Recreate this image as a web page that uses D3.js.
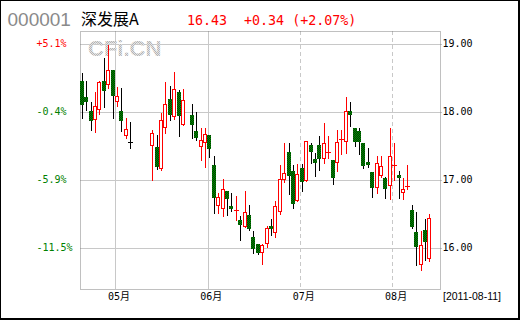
<!DOCTYPE html>
<html><head><meta charset="utf-8">
<script src="https://cdn.jsdelivr.net/npm/d3@7/dist/d3.min.js"></script>
<style>html,body{margin:0;padding:0;background:#fff;}svg{display:block;}</style>
</head><body>
<script>
// ---- data ----
const dates = [
 "2011-04-20","2011-04-21","2011-04-22","2011-04-25","2011-04-26","2011-04-27","2011-04-28","2011-04-29",
 "2011-05-03","2011-05-04","2011-05-05","2011-05-06","2011-05-09","2011-05-10","2011-05-11","2011-05-12","2011-05-13",
 "2011-05-16","2011-05-17","2011-05-18","2011-05-19","2011-05-20","2011-05-23","2011-05-24","2011-05-25","2011-05-26","2011-05-27",
 "2011-05-30","2011-05-31",
 "2011-06-01","2011-06-02","2011-06-03","2011-06-07","2011-06-08","2011-06-09","2011-06-10","2011-06-13","2011-06-14","2011-06-15",
 "2011-06-16","2011-06-17","2011-06-20","2011-06-21","2011-06-22","2011-06-23","2011-06-24","2011-06-27","2011-06-28","2011-06-29","2011-06-30",
 "2011-07-01","2011-07-04","2011-07-05","2011-07-06","2011-07-07","2011-07-08","2011-07-11","2011-07-12","2011-07-13","2011-07-14",
 "2011-07-15","2011-07-18","2011-07-19","2011-07-20","2011-07-21","2011-07-22","2011-07-25","2011-07-26","2011-07-27","2011-07-28","2011-07-29",
 "2011-08-01","2011-08-02","2011-08-03","2011-08-04","2011-08-05","2011-08-08","2011-08-09","2011-08-10","2011-08-11"
];
const openP = [18.45,18.21,18.01,17.88,18.03,18.45,18.39,18.62,
 18.15,18.01,17.64,17.55,null,null,null,null,17.50,17.48,17.16,17.76,18.18,17.92,18.29,17.81,null,17.95,17.72,17.48,17.54,
 17.66,17.22,16.62,16.57,16.83,16.62,16.54,16.41,16.31,16.48,16.16,16.05,15.92,16.05,16.32,16.21,16.53,16.99,17.41,17.13,16.69,
 17.17,16.98,17.51,17.31,17.51,17.30,17.40,17.29,17.25,17.59,17.56,18.01,17.76,17.71,17.54,17.26,17.12,16.88,17.05,17.03,16.91,
 17.21,17.07,16.80,16.90,16.55,16.23,15.74,16.26,15.83];
const highP = [18.57,18.45,18.14,18.29,18.45,18.79,18.98,18.62,
 18.37,18.35,17.91,17.85,null,null,null,null,17.73,17.66,17.98,18.43,18.38,18.59,18.32,18.34,null,18.11,18.00,17.76,17.76,
 17.66,17.35,16.81,17.01,16.83,16.81,16.76,16.47,16.84,16.63,16.25,16.05,16.06,16.32,16.42,16.69,17.22,17.54,17.54,17.22,17.23,
 17.23,17.57,17.54,17.39,17.65,17.83,17.64,17.29,17.73,17.73,18.22,18.15,17.76,17.76,17.54,17.46,17.12,17.35,17.35,17.04,17.76,
 17.54,17.13,17.02,17.22,16.63,16.52,16.25,16.42,16.50];
const lowP = [17.91,18.03,17.73,17.70,17.97,18.07,18.35,17.91,
 18.08,17.72,17.61,17.47,null,null,null,null,17.00,17.16,17.15,17.69,17.88,17.90,17.64,17.80,null,17.62,17.59,17.29,17.18,
 17.34,16.51,16.51,16.46,16.48,16.54,16.41,16.12,16.30,16.26,15.92,15.91,15.76,16.01,16.19,16.16,16.50,16.97,16.79,16.59,16.68,
 16.84,16.98,17.25,17.05,17.14,17.25,17.32,16.94,17.13,17.38,17.39,17.79,17.49,17.38,17.17,17.19,16.75,16.81,17.04,16.73,16.71,
 16.99,16.73,16.72,16.86,16.29,15.75,15.67,15.82,15.81];
const closeP = [18.10,18.15,17.87,18.09,18.44,18.31,18.62,18.23,
 18.23,17.87,17.75,17.55,null,null,null,null,17.68,17.18,17.88,18.12,17.95,18.34,17.93,18.17,null,17.80,17.62,17.58,17.67,
 17.45,16.73,16.74,16.86,16.71,16.57,16.55,16.34,16.52,16.28,15.98,15.92,16.04,16.29,16.28,16.61,17.01,17.10,17.05,16.64,17.08,
 16.96,17.57,17.41,17.25,17.31,17.54,17.41,17.03,17.55,17.60,18.01,17.95,17.56,17.56,17.20,17.22,16.88,17.24,17.20,16.86,17.35,
 17.22,17.03,16.87,16.91,16.31,16.01,16.04,16.09,16.43];
const priceTicks = [16, 17, 18, 19];
const pctLabels = ["-11.5%", "-5.9%", "-0.4%", "+5.1%"];
const monthStarts = ["2011-05-03", "2011-06-01", "2011-07-01", "2011-08-01"];
const monthLabels = ["05月", "06月", "07月", "08月"];
const stockCode = "000001";
const stockName = "深发展A";
const lastPrice = "16.43";
const changeText = "+0.34 (+2.07%)";
const dateLabel = "[2011-08-11]";

// ---- drawing ----
const W = 520, H = 320;
const RED = "#ff0000", GREEN = "#008000";
const svg = d3.select("body").append("svg").attr("width", W).attr("height", H);
svg.append("rect").attr("width", W).attr("height", H).attr("fill", "#fff");

const defs = svg.append("defs");
const gp = defs.append("pattern").attr("id", "gpat").attr("width", 2).attr("height", 2).attr("patternUnits", "userSpaceOnUse");
gp.append("rect").attr("width", 2).attr("height", 2).attr("fill", "#008c00");
gp.append("rect").attr("x", 1).attr("width", 1).attr("height", 1).attr("fill", "#003c00");
gp.append("rect").attr("y", 1).attr("width", 1).attr("height", 1).attr("fill", "#003c00");
const wp = defs.append("pattern").attr("id", "wpat").attr("width", 2).attr("height", 2).attr("patternUnits", "userSpaceOnUse");
wp.append("rect").attr("width", 2).attr("height", 2).attr("fill", "#e4e4e4");
wp.append("rect").attr("width", 1).attr("height", 1).attr("fill", "#b4b4b4");
wp.append("rect").attr("x", 1).attr("y", 1).attr("width", 1).attr("height", 1).attr("fill", "#b4b4b4");

const L = 80, R = 440, T = 31, B = 289, STEP = 4.4;
const x = d3.scaleBand().domain(dates).range([L, L + dates.length * STEP]).padding(0);
const y = d3.scaleLinear().domain([16, 19]).range([247.7, 43.7]);

// horizontal gridlines
svg.append("g").selectAll("line").data(priceTicks).join("line")
  .attr("x1", L).attr("x2", R + 2)
  .attr("y1", d => Math.round(y(d)) + 0.5).attr("y2", d => Math.round(y(d)) + 0.5)
  .attr("stroke", "#c8c8c8").attr("stroke-width", 1);
// vertical month gridlines
svg.append("g").selectAll("line").data(monthStarts).join("line")
  .attr("x1", d => Math.round(x(d)) + 0.5).attr("x2", d => Math.round(x(d)) + 0.5)
  .attr("y1", T).attr("y2", B)
  .attr("stroke", "#c8c8c8").attr("stroke-width", 1)
  .attr("stroke-dasharray", (d, i) => i >= 2 ? "4,3" : null);

// watermark
svg.append("text").attr("x", 88).attr("y", 56).text("CFi.CN")
  .attr("font-family", "Liberation Sans, Arial, sans-serif").attr("font-weight", "bold")
  .attr("font-size", 22).attr("fill", "url(#wpat)");

// frame
svg.append("rect").attr("x", L + 0.5).attr("y", T + 0.5).attr("width", R - L).attr("height", B - T)
  .attr("fill", "none").attr("stroke", "#808080").attr("stroke-dasharray", "1,1");

// candles
const candles = dates.map((d, i) => ({d, o: openP[i], h: highP[i], l: lowP[i], c: closeP[i]}))
  .filter(k => k.o != null);
const cg = svg.append("g").attr("shape-rendering", "crispEdges");
const col = k => k.c > k.o ? RED : (k.c < k.o ? GREEN : "#000");
const cxF = k => Math.floor(x(k.d) + x.bandwidth() / 2);
cg.selectAll("line.wick").data(candles).join("line").attr("class", "wick")
  .attr("x1", k => cxF(k) + 0.5).attr("x2", k => cxF(k) + 0.5)
  .attr("y1", k => Math.round(y(k.h))).attr("y2", k => Math.round(y(k.l)) + 1)
  .attr("stroke", k => k.c > k.o ? RED : "#000");
cg.selectAll("g.body").data(candles).join("g").attr("class", "body").each(function (k) {
  const g = d3.select(this);
  const cx = cxF(k);
  const yt = Math.round(y(Math.max(k.o, k.c))), yb = Math.round(y(Math.min(k.o, k.c)));
  if (yb - yt < 2) {
    g.append("line").attr("x1", cx - 2).attr("x2", cx + 3)
      .attr("y1", yt + 0.5).attr("y2", yt + 0.5).attr("stroke", col(k));
  } else if (k.c > k.o) {
    g.append("rect").attr("x", cx - 1.5).attr("y", yt + 0.5).attr("width", 3).attr("height", yb - yt - 1)
      .attr("fill", "#fff").attr("stroke", RED);
  } else {
    g.append("rect").attr("x", cx - 2).attr("y", yt).attr("width", 4).attr("height", yb - yt)
      .attr("fill", "url(#gpat)");
  }
});

// left percent labels
const left = svg.append("g").attr("transform", `translate(${L},0)`)
  .call(d3.axisLeft(y).tickValues(priceTicks).tickFormat((d, i) => pctLabels[i]).tickSize(0));
left.select(".domain").remove();
left.selectAll("text").attr("x", 36.5 - L).attr("text-anchor", "start")
  .attr("font-family", "DejaVu Sans Mono, monospace").attr("font-size", 10)
  .attr("fill", (d, i) => pctLabels[i].startsWith("+") ? RED : GREEN);

// right price labels
const right = svg.append("g").attr("transform", `translate(${R},0)`)
  .call(d3.axisRight(y).tickValues(priceTicks).tickFormat(d3.format(".2f")).tickSize(0));
right.select(".domain").remove();
right.selectAll("text").attr("x", 2.5).attr("font-family", "DejaVu Sans Mono, monospace")
  .attr("font-size", 10).attr("fill", "#000");

// month labels
const bottom = svg.append("g").attr("transform", `translate(0,${B})`)
  .call(d3.axisBottom(x).tickValues(monthStarts).tickFormat((d, i) => monthLabels[i]).tickSize(0));
bottom.select(".domain").remove();
bottom.selectAll("text").attr("dx", 1.5).attr("y", 11).attr("dy", 0)
  .attr("font-family", "DejaVu Sans Mono, Noto Sans CJK SC, sans-serif").attr("font-size", 10).attr("fill", "#000");

svg.append("text").attr("x", 443).attr("y", 300).text(dateLabel)
  .attr("font-family", "Liberation Sans, Arial, sans-serif").attr("font-size", 10.5).attr("fill", "#000");

// header
svg.append("text").attr("x", 7.5).attr("y", 26).text(stockCode)
  .attr("font-family", "Liberation Sans, Arial, sans-serif").attr("font-size", 19).attr("fill", "#8a8a8a");
svg.append("text").attr("x", 81).attr("y", 25).text(stockName)
  .attr("font-family", "Noto Sans CJK SC, sans-serif").attr("font-size", 16).attr("fill", "#000");
svg.append("text").attr("x", 187).attr("y", 25).text(lastPrice)
  .attr("font-family", "DejaVu Sans Mono, monospace").attr("font-size", 13.33).attr("fill", RED);
svg.append("text").attr("x", 244).attr("y", 25).text(changeText).attr("xml:space", "preserve")
  .style("white-space", "pre")
  .attr("font-family", "DejaVu Sans Mono, monospace").attr("font-size", 13.33).attr("fill", RED);

// outer border
svg.append("rect").attr("x", 0.5).attr("y", 0.5).attr("width", W - 2).attr("height", H - 2)
  .attr("fill", "none").attr("stroke", "#000");
svg.append("line").attr("x1", W - 0.5).attr("x2", W - 0.5).attr("y1", 0).attr("y2", H).attr("stroke", "#000");
svg.append("line").attr("x1", 0).attr("x2", W).attr("y1", H - 0.5).attr("y2", H - 0.5).attr("stroke", "#000");
</script>
</body></html>
